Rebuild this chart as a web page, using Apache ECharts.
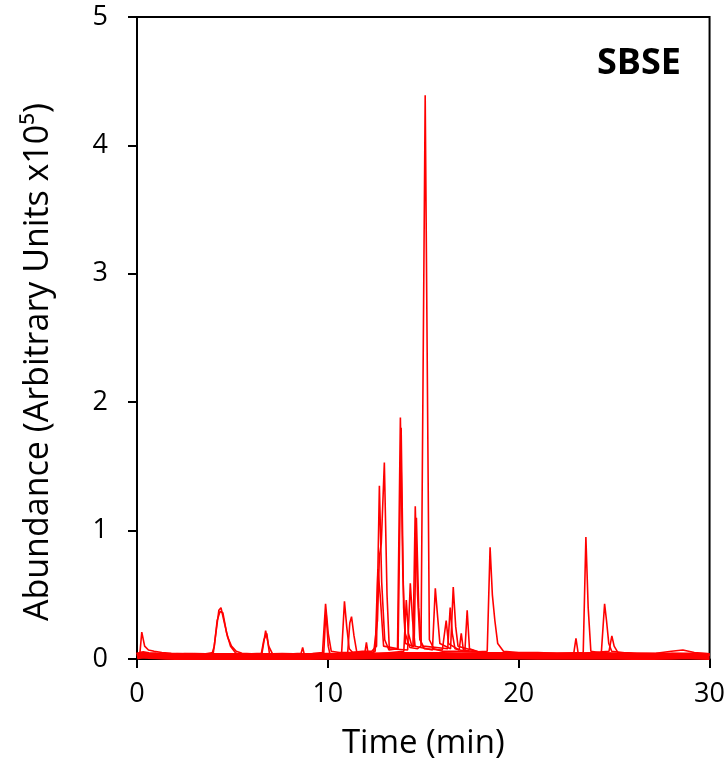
<!DOCTYPE html>
<html>
<head>
<meta charset="utf-8">
<script src="https://cdn.jsdelivr.net/npm/echarts@6/dist/echarts.min.js"></script>
<style>
  html, body { margin: 0; padding: 0; background: #fff; }
  #chart { width: 728px; height: 769px; }
</style>
</head>
<body>
<div id="chart"></div>
<script>
// axis ticks
const xTicks = [0, 10, 20, 30];
const yTicks = [0, 1, 2, 3, 4, 5];

// thick baseline band (many overlapping traces)
const baseline = [
  [0, 0.022], [0.3, 0.035], [0.6, 0.028], [1, 0.025], [1.5, 0.022], [2, 0.02], [2.5, 0.021],
  [3, 0.019], [3.5, 0.02], [4, 0.019], [5, 0.02], [6, 0.019], [7, 0.02], [8, 0.019],
  [9, 0.02], [10, 0.021], [11, 0.022], [12, 0.024], [13, 0.026], [14, 0.027], [15, 0.028],
  [16, 0.027], [17, 0.026], [18, 0.025], [19, 0.024], [20, 0.023], [21, 0.022], [22, 0.022],
  [23, 0.021], [24, 0.022], [25, 0.021], [26, 0.02], [27, 0.02], [28, 0.022], [28.5, 0.024],
  [29, 0.023], [29.5, 0.022], [30, 0.02]
];

// individual traces: [time (min), abundance x10^5]
const traceA = [
  [0, 0.02], [0.15, 0.04], [0.25, 0.21], [0.4, 0.1], [0.6, 0.07], [0.9, 0.06], [1.3, 0.05],
  [1.8, 0.045], [2.4, 0.04], [3.0, 0.042], [3.6, 0.04], [4.0, 0.05], [4.15, 0.22], [4.29, 0.38],
  [4.4, 0.4], [4.55, 0.3], [4.75, 0.17], [4.95, 0.1], [5.2, 0.06], [5.5, 0.045], [6.0, 0.04],
  [6.55, 0.045], [6.74, 0.22], [6.9, 0.1], [7.1, 0.04], [7.6, 0.042], [8.2, 0.04], [8.6, 0.045],
  [8.68, 0.09], [8.76, 0.04], [9.2, 0.042], [9.72, 0.05], [9.88, 0.43], [10.02, 0.2], [10.18, 0.06],
  [10.6, 0.05], [11.2, 0.05], [11.8, 0.06], [12.3, 0.06], [12.55, 0.1], [12.7, 1.35], [12.82, 0.6],
  [12.98, 0.15], [13.2, 0.07], [13.65, 0.08], [13.8, 1.88], [13.93, 0.65], [14.05, 0.2], [14.3, 0.09],
  [14.7, 0.08], [14.88, 0.1], [15.1, 4.39], [15.32, 0.15], [15.55, 0.08], [16.0, 0.06], [16.8, 0.06],
  [17.6, 0.055], [18.35, 0.06], [18.5, 0.87], [18.62, 0.5], [18.75, 0.3], [18.9, 0.12], [19.2, 0.06],
  [20.0, 0.05], [21.0, 0.05], [22.0, 0.045], [23.38, 0.05], [23.52, 0.95], [23.64, 0.4], [23.78, 0.06],
  [24.2, 0.05], [25.2, 0.045], [26.2, 0.04], [27.2, 0.045], [28.0, 0.06], [28.6, 0.07], [29.2, 0.05],
  [30, 0.04]
];
const traceB = [
  [0, 0.015], [1, 0.02], [2, 0.02], [3, 0.02], [3.9, 0.025], [4.05, 0.1], [4.2, 0.3], [4.35, 0.37],
  [4.5, 0.36], [4.7, 0.2], [4.9, 0.1], [5.15, 0.05], [5.4, 0.03], [6.5, 0.03], [6.65, 0.15],
  [6.8, 0.2], [6.95, 0.03], [8, 0.03], [9, 0.03], [9.78, 0.03], [9.9, 0.38], [10.02, 0.1], [10.12, 0.03],
  [10.72, 0.04], [10.87, 0.45], [10.99, 0.25], [11.12, 0.08], [11.3, 0.05], [12.4, 0.05], [12.6, 0.3],
  [12.7, 0.8], [12.8, 0.9], [12.96, 1.53], [13.1, 0.5], [13.22, 0.08], [14.18, 0.07], [14.32, 0.59],
  [14.44, 0.3], [14.57, 0.1], [15.48, 0.07], [15.63, 0.55], [15.74, 0.35], [15.87, 0.12], [16.43, 0.08],
  [16.57, 0.56], [16.7, 0.25], [16.82, 0.1], [18.0, 0.05], [20, 0.04], [22, 0.04], [24.33, 0.05],
  [24.5, 0.43], [24.6, 0.3], [24.72, 0.12], [24.87, 0.06], [26, 0.04], [28, 0.045], [30, 0.03]
];
const traceC = [
  [0, 0.01], [5, 0.02], [10, 0.02], [11.03, 0.03], [11.15, 0.28], [11.24, 0.33], [11.37, 0.18],
  [11.52, 0.05], [11.93, 0.04], [12.02, 0.13], [12.11, 0.04], [12.48, 0.06], [12.62, 0.7], [12.74, 0.5],
  [12.92, 0.1], [13.68, 0.08], [13.84, 1.8], [13.97, 0.4], [14.07, 0.12], [14.46, 0.1], [14.58, 1.19],
  [14.7, 0.5], [14.82, 0.15], [15.0, 0.1], [16.28, 0.08], [16.41, 0.4], [16.52, 0.2], [16.66, 0.08],
  [17.18, 0.06], [17.3, 0.38], [17.42, 0.08], [18, 0.05], [22.88, 0.04], [23.0, 0.16], [23.12, 0.04],
  [24.73, 0.06], [24.88, 0.18], [25.0, 0.1], [25.2, 0.05], [30, 0.03]
];
const traceD = [
  [0, 0.01], [10, 0.02], [12, 0.03], [13.98, 0.06], [14.11, 0.46], [14.22, 0.2], [14.4, 0.1],
  [14.52, 0.1], [14.64, 1.1], [14.76, 0.4], [14.9, 0.12], [15.05, 0.08], [16.0, 0.07], [16.2, 0.3],
  [16.32, 0.12], [16.88, 0.07], [16.99, 0.2], [17.1, 0.07], [18, 0.05], [30, 0.03]
];

const FONT = "'Open Sans', sans-serif";
const RED = "#ff0000";

const chart = echarts.init(document.getElementById("chart"), null, { renderer: "canvas" });

const traceSeries = (data, width) => ({
  type: "line",
  data: data,
  showSymbol: false,
  symbol: "none",
  smooth: false,
  lineStyle: { color: RED, width: width },
  silent: true,
});

chart.setOption({
  animation: false,
  backgroundColor: "#fff",
  grid: {
    left: 137,
    right: 17,
    top: 17,
    bottom: 110,
    show: true,
    borderColor: "#000",
    borderWidth: 2,
  },
  graphic: [
    {
      type: "text",
      left: 597,
      top: 46,
      style: { text: "SBSE", font: "bold 36px " + FONT, fill: "#000" },
    },
    {
      type: "text",
      x: 38,
      y: 362,
      rotation: Math.PI / 2,
      style: {
        text: "Abundance (Arbitrary Units x10⁵)",
        font: "34px " + FONT,
        fill: "#000",
        align: "center",
        verticalAlign: "middle",
      },
    },
  ],
  xAxis: {
    type: "value",
    min: xTicks[0],
    max: xTicks[xTicks.length - 1],
    interval: 10,
    name: "Time (min)",
    nameLocation: "middle",
    nameGap: 68,
    nameTextStyle: { fontFamily: FONT, fontSize: 33, color: "#000" },
    axisLine: { show: true, onZero: false, lineStyle: { color: "#000", width: 2 } },
    axisTick: { show: true, inside: false, length: 9, lineStyle: { color: "#000", width: 2 } },
    axisLabel: { fontFamily: FONT, fontSize: 27, color: "#000", margin: 22 },
    splitLine: { show: false },
  },
  yAxis: {
    type: "value",
    min: yTicks[0],
    max: yTicks[yTicks.length - 1],
    interval: 1,
    axisLine: { show: true, lineStyle: { color: "#000", width: 2 } },
    axisTick: { show: true, inside: false, length: 9, lineStyle: { color: "#000", width: 2 } },
    axisLabel: { fontFamily: FONT, fontSize: 27, color: "#000", margin: 29 },
    splitLine: { show: false },
  },
  series: [
    traceSeries(baseline, 7),
    traceSeries(traceD, 1.6),
    traceSeries(traceC, 1.6),
    traceSeries(traceB, 1.6),
    traceSeries(traceA, 1.6),
  ],
});
</script>
</body>
</html>
